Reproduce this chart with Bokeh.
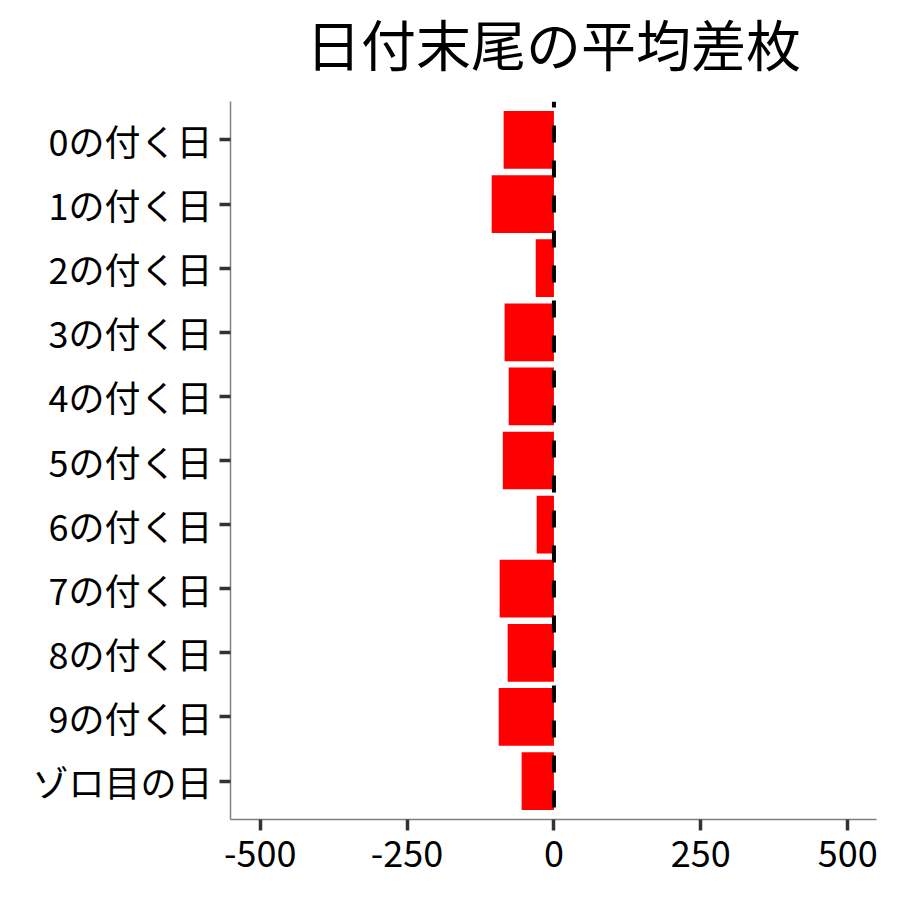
from bokeh.plotting import figure
from bokeh.layouts import column
from bokeh.models import FactorRange, Range1d, Span, FixedTicker, Label
from bokeh.embed import file_html
from bokeh.resources import INLINE

categories = ["0の付く日", "1の付く日", "2の付く日", "3の付く日", "4の付く日",
              "5の付く日", "6の付く日", "7の付く日", "8の付く日", "9の付く日", "ゾロ目の日"]
values = [-85.6, -106.0, -31.0, -84.0, -77.0, -87.0, -29.4, -92.4, -78.8, -94.0, -55.0]
x_ticks = [-500, -250, 0, 250, 500]
x_tick_labels = ["-500", "-250", "0", "250", "500"]
title_text = "日付末尾の平均差枚"

FONT = "Noto Sans CJK JP"
W = 884
TITLE_H = 101
MAIN_H = 884 - TITLE_H
ML, MR, MB = 230, 8, 65
X_START, X_END = -550.5, 549.0

# Title strip (separate figure so the title can sit freely above the plot frame)
t = figure(width=W, height=TITLE_H, x_range=Range1d(X_START, X_END), y_range=Range1d(0, TITLE_H),
           x_axis_type=None, y_axis_type=None, output_backend="svg", toolbar_location=None,
           min_border_left=ML, min_border_right=MR, min_border_top=0, min_border_bottom=0)
t.xgrid.grid_line_color = None
t.ygrid.grid_line_color = None
t.outline_line_color = None
t.add_layout(Label(x=(X_START + X_END) / 2, y=TITLE_H - 41, x_units="data", y_units="screen",
                   text=title_text, text_font=FONT, text_font_size="55px",
                   text_color="black", text_align="center", text_baseline="middle"))

y_range = FactorRange(factors=list(reversed(categories)), range_padding=0.1,
                      range_padding_units="absolute")

p = figure(width=W, height=MAIN_H, y_range=y_range, x_range=Range1d(X_START, X_END),
           output_backend="svg", toolbar_location=None,
           min_border_left=ML, min_border_right=MR, min_border_top=0, min_border_bottom=MB)

p.hbar(y=categories, left=0, right=values, height=0.9, fill_color="#FF0000", line_color=None)

p.add_layout(Span(location=0, dimension="height", line_color="black", line_width=4,
                  line_dash="17 18", line_dash_offset=11))

p.xgrid.grid_line_color = None
p.ygrid.grid_line_color = None
p.outline_line_color = None
p.background_fill_color = "white"
p.border_fill_color = "white"

p.xaxis.ticker = FixedTicker(ticks=x_ticks)
p.xaxis.major_label_overrides = dict(zip(x_ticks, x_tick_labels))
for ax in (p.xaxis[0], p.yaxis[0]):
    ax.axis_line_color = "#808080"
    ax.axis_line_width = 1.5
    ax.major_tick_line_color = "#333333"
    ax.major_tick_line_width = 3.5
    ax.major_tick_out = 11
    ax.major_tick_in = 0
    ax.minor_tick_line_color = None
    ax.major_label_text_font = FONT
    ax.major_label_text_font_size = "36px"
    ax.major_label_text_color = "black"
p.xaxis.major_label_standoff = 10
p.yaxis.major_label_standoff = 7

layout = column(t, p, spacing=0)
open("out.html", "w").write(file_html(layout, INLINE))
